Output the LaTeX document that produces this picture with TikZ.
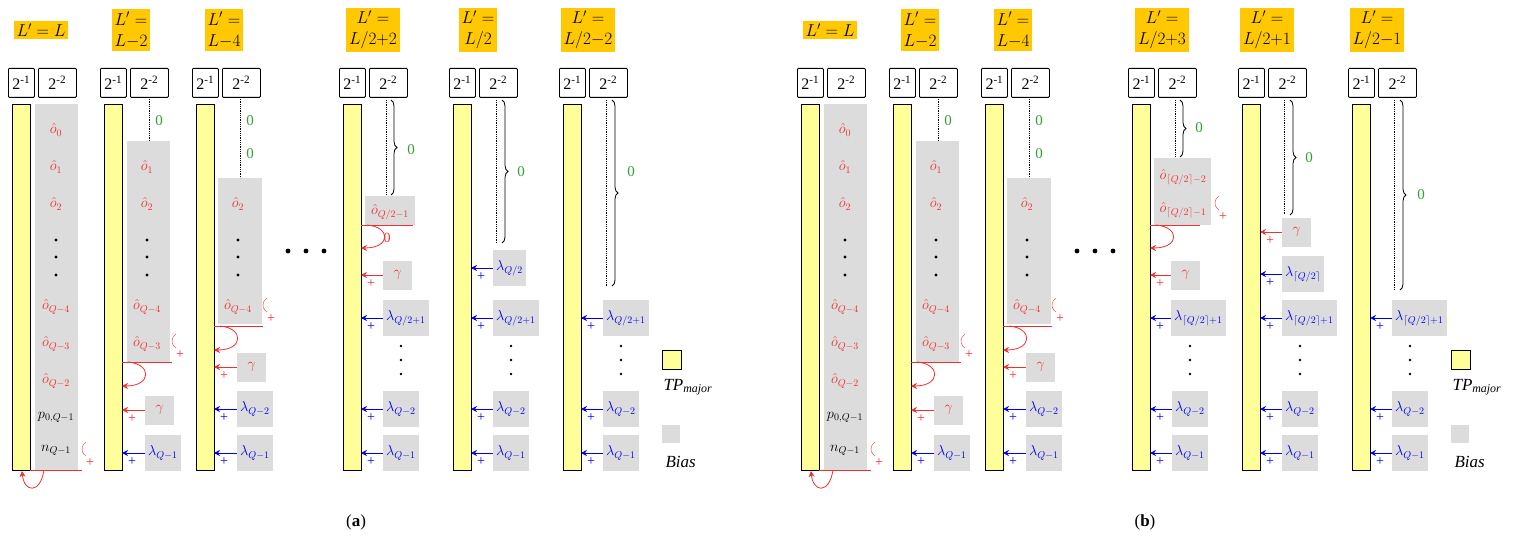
\documentclass[tikz,border=0pt]{standalone}
\usepackage{fontspec}
\setmainfont{Liberation Serif}
\usetikzlibrary{arrows.meta,decorations.pathreplacing}
\definecolor{ttl}{HTML}{FFC800}
\definecolor{ylw}{HTML}{FFFF99}
\definecolor{bgr}{HTML}{DCDCDC}
\definecolor{rd}{HTML}{F03030}
\definecolor{bl}{HTML}{0000F0}
\definecolor{gn}{HTML}{33A033}
\tikzset{
 ttlS/.style={fill=ttl,align=center,inner sep=3pt,font=\fontsize{17}{21}\selectfont},
 hdr/.style={draw,thick,rounded corners=1pt,minimum height=29pt,inner sep=0pt,anchor=north west,font=\fontsize{16}{16}\selectfont},
 barS/.style={draw,thick,fill=ylw,minimum width=18pt,anchor=north west,inner sep=0pt},
 biasS/.style={fill=bgr,inner sep=0pt,anchor=north west},
 lb/.style={font=\fontsize{14}{14}\selectfont,inner sep=1pt},
 gbox/.style={fill=bgr,anchor=west,inner sep=3pt,font=\fontsize{14}{14}\selectfont},
 zero/.style={text=gn,font=\fontsize{15}{15}\selectfont},
}
\newcommand\colhead[2]{%
 \node[barS,minimum height=366pt] (#2b) at (#1,104) {};
 \node[hdr,minimum width=26pt] (#2h1) at (#1-4,68) {2\textsuperscript{-1}};
 \node[hdr,minimum width=38pt] (#2h2) at (#1+26,68) {2\textsuperscript{-2}};}
\newcommand\inarr[4]{% color, bar right x, y, box left x
 \coordinate (ia) at (#4,#3); \coordinate (ib) at (#2,#3);
 \draw[#1,thick,-{Stealth[length=6pt,width=6pt]}] (ia) -- (ib);
 \node[#1,lb] at (#2+10,#3+9) {+};}
\newcommand\plusend[3]{% x,y line end
 \draw[rd] (#1+6,#2-14) arc (120:240:8);
 \node[rd,lb] at (#1+10,#2-7) {+};}
\newcommand\loopar[3]{% bar right x, line y, depth
 \coordinate (la) at (#1+6,#2); \coordinate (lc) at (#1,#2+#3);
 \draw[rd,thick,-{Stealth[length=6pt,width=6pt]}] (la) .. controls (#1+30,#2+2) and (#1+30,#2+#3) .. (lc);}
\newcommand\panel{%
 % column 1
 \node[ttlS] (t1) at (41,30) {$L'=L$};
 \colhead{12}{a}
 \node[biasS,minimum width=43pt,minimum height=366pt] (g1) at (35,104) {};
 \foreach \lab/\yy in {\hat o_0/130,\hat o_1/167,\hat o_2/204,\hat o_{Q-4}/307,\hat o_{Q-3}/344,\hat o_{Q-2}/381}{\node[rd,lb] at (56,\yy) {$\lab$};}
 \node[lb] at (56,417) {$p_{0,Q-1}$};
 \node[lb] at (56,450) {$n_{Q-1}$};
 \foreach \yy in {240,257,275}{\fill (56,\yy) circle (1.6pt);}
 \draw[rd,thick] (30,470) -- (82,470);
 \plusend{80}{470}{}
 \draw[rd,thick,-{Stealth[length=6pt,width=6pt]}] (44,470) .. controls (40,495) and (24,492) .. (22,471);
 % column 2
 \node[ttlS] (t2) at (131,30) {$L'=$\\$L{-}2$};
 \colhead{104}{b}
 \node[biasS,minimum width=43pt,minimum height=221pt] (g2) at (127,141) {};
 \draw[densely dotted,thick] (149,97) -- (149,141);
 \node[zero] at (159,121) {0};
 \foreach \lab/\yy in {\hat o_1/167,\hat o_2/204,\hat o_{Q-4}/307,\hat o_{Q-3}/344}{\node[rd,lb] at (147,\yy) {$\lab$};}
 \foreach \yy in {240,257,275}{\fill (147,\yy) circle (1.6pt);}
 \draw[rd,thick] (122,362) -- (172,362); \plusend{170}{362}{}
 \loopar{122}{362}{24}
 \node[gbox,text=rd,minimum height=29pt,minimum width=29pt] (b1) at (145,410) {$\gamma$};
 \inarr{rd}{122}{410}{145}
 \node[gbox,text=bl,minimum height=36pt] (b2) at (145,453) {$\lambda_{Q-1}$};
 \inarr{bl}{122}{453}{145}
 % column 3
 \node[ttlS] (t3) at (224,30) {$L'=$\\$L{-}4$};
 \colhead{196}{c}
 \node[biasS,minimum width=44pt,minimum height=146pt] (g3) at (218,178) {};
 \draw[densely dotted,thick] (240,97) -- (240,178);
 \node[zero] at (250,121) {0}; \node[zero] at (250,154) {0};
 \node[rd,lb] at (238,204) {$\hat o_2$};
 \node[rd,lb] at (238,307) {$\hat o_{Q-4}$};
 \foreach \yy in {240,257,275}{\fill (238,\yy) circle (1.6pt);}
 \draw[rd,thick] (214,326) -- (263,326); \plusend{261}{326}{}
 \loopar{214}{326}{24}
 \node[gbox,text=rd,minimum height=29pt,minimum width=29pt] at (237,367) {$\gamma$};
 \inarr{rd}{214}{367}{237}
 \node[gbox,text=bl,minimum height=36pt] at (237,409) {$\lambda_{Q-2}$};
 \inarr{bl}{214}{409}{237}
 \node[gbox,text=bl,minimum height=36pt] at (237,453) {$\lambda_{Q-1}$};
 \inarr{bl}{214}{453}{237}
 \foreach \xx in {288,306,324}{\fill (\xx,251) circle (2.4pt);}
 % legend
 \node[draw,thick,fill=ylw,minimum size=19pt,inner sep=0pt] (ly) at (672,360) {};
 \node[font=\fontsize{17}{17}\selectfont\itshape,anchor=west] at (660,387) {TP\textsubscript{major}};
 \node[fill=bgr,minimum size=18pt,inner sep=0pt] (lg) at (671,434) {};
 \node[font=\fontsize{17}{17}\selectfont\itshape,anchor=west] at (662,462) {Bias};
 % common lower rows for cols 4-6
 \foreach \bx in {343,453,563}{
  \node[gbox,text=bl,minimum height=36pt] at (\bx+40,409) {$\lambda_{Q-2}$};
  \inarr{bl}{\bx+18}{409}{\bx+40}
  \node[gbox,text=bl,minimum height=36pt] at (\bx+40,453) {$\lambda_{Q-1}$};
  \inarr{bl}{\bx+18}{453}{\bx+40}
  \foreach \yy in {346,360,374}{\fill (\bx+58,\yy) circle (1.4pt);}
 }
 \colhead{343}{d}\colhead{453}{e}\colhead{563}{f}
}
\begin{document}
\begin{tikzpicture}[x=1pt,y=-1pt]
\useasboundingbox (0,0) rectangle (1514,548);
% ---------- (a)
\panel
\node[ttlS] at (373,30) {$L'=$\\$L/2{+}2$};
\node[ttlS] at (478,30) {$L'=$\\$L/2$};
\node[ttlS] at (588,30) {$L'=$\\$L/2{-}2$};
% col4
\draw[densely dotted,thick] (386,100) -- (386,195);
\draw[thick,decorate,decoration={brace,amplitude=6pt}] (391,100) -- (391,195);
\node[zero] at (411,150) {0};
\node[biasS,minimum width=50pt,minimum height=29pt] at (365,196) {};
\node[rd,lb] at (390,212) {$\hat o_{Q/2-1}$};
\draw[rd,thick] (361,225) -- (413,225);
\loopar{361}{225}{23}
\node[rd,lb] at (387,238) {0};
\node[gbox,text=rd,minimum height=29pt,minimum width=29pt] at (383,275) {$\gamma$};
\inarr{rd}{361}{275}{383}
\node[gbox,text=bl,minimum height=36pt] at (383,318) {$\lambda_{Q/2+1}$};
\inarr{bl}{361}{318}{383}
% col5
\draw[densely dotted,thick] (496,100) -- (496,243);
\draw[thick,decorate,decoration={brace,amplitude=6pt}] (502,100) -- (502,243);
\node[zero] at (521,172) {0};
\node[gbox,text=bl,minimum height=36pt] at (493,268) {$\lambda_{Q/2}$};
\inarr{bl}{471}{268}{493}
\node[gbox,text=bl,minimum height=36pt] at (493,318) {$\lambda_{Q/2+1}$};
\inarr{bl}{471}{318}{493}
% col6
\draw[densely dotted,thick] (606,100) -- (606,286);
\draw[thick,decorate,decoration={brace,amplitude=6pt}] (612,100) -- (612,286);
\node[zero] at (631,172) {0};
\node[gbox,text=bl,minimum height=36pt] at (603,318) {$\lambda_{Q/2+1}$};
\inarr{bl}{581}{318}{603}
\node[font=\fontsize{17}{17}\selectfont] at (356,522) {(\textbf{a})};
% ---------- (b)
\begin{scope}[xshift=789]
\panel
\node[ttlS] at (373,30) {$L'=$\\$L/2{+}3$};
\node[ttlS] at (478,30) {$L'=$\\$L/2{+}1$};
\node[ttlS] at (588,30) {$L'=$\\$L/2{-}1$};
% col4
\draw[densely dotted,thick] (386,100) -- (386,157);
\draw[thick,decorate,decoration={brace,amplitude=6pt}] (391,100) -- (391,157);
\node[zero] at (410,128) {0};
\node[biasS,minimum width=57pt,minimum height=67pt] at (365,158) {};
\node[rd,lb] at (394,177) {$\hat o_{\lceil Q/2\rceil-2}$};
\node[rd,lb] at (394,210) {$\hat o_{\lceil Q/2\rceil-1}$};
\plusend{424}{224}{}
\draw[rd,thick] (361,225) -- (411,225);
\loopar{361}{225}{23}
\node[gbox,text=rd,minimum height=29pt,minimum width=29pt] at (382,275) {$\gamma$};
\inarr{rd}{361}{275}{382}
\node[gbox,text=bl,minimum height=36pt] at (382,318) {$\lambda_{\lceil Q/2\rceil+1}$};
\inarr{bl}{361}{318}{382}
% col5
\draw[densely dotted,thick] (495,100) -- (495,215);
\draw[thick,decorate,decoration={brace,amplitude=6pt}] (501,100) -- (501,215);
\node[zero] at (520,158) {0};
\node[gbox,text=rd,minimum height=29pt,minimum width=29pt] at (493,232) {$\gamma$};
\inarr{rd}{471}{232}{493}
\node[gbox,text=bl,minimum height=36pt] at (493,274) {$\lambda_{\lceil Q/2\rceil}$};
\inarr{bl}{471}{274}{493}
\node[gbox,text=bl,minimum height=36pt] at (493,318) {$\lambda_{\lceil Q/2\rceil+1}$};
\inarr{bl}{471}{318}{493}
% col6
\draw[densely dotted,thick] (605,100) -- (605,290);
\draw[thick,decorate,decoration={brace,amplitude=6pt}] (611,100) -- (611,290);
\node[zero] at (632,195) {0};
\node[gbox,text=bl,minimum height=36pt] at (603,318) {$\lambda_{\lceil Q/2\rceil+1}$};
\inarr{bl}{581}{318}{603}
\node[font=\fontsize{17}{17}\selectfont] at (356,522) {(\textbf{b})};
\end{scope}
\end{tikzpicture}
\end{document}
